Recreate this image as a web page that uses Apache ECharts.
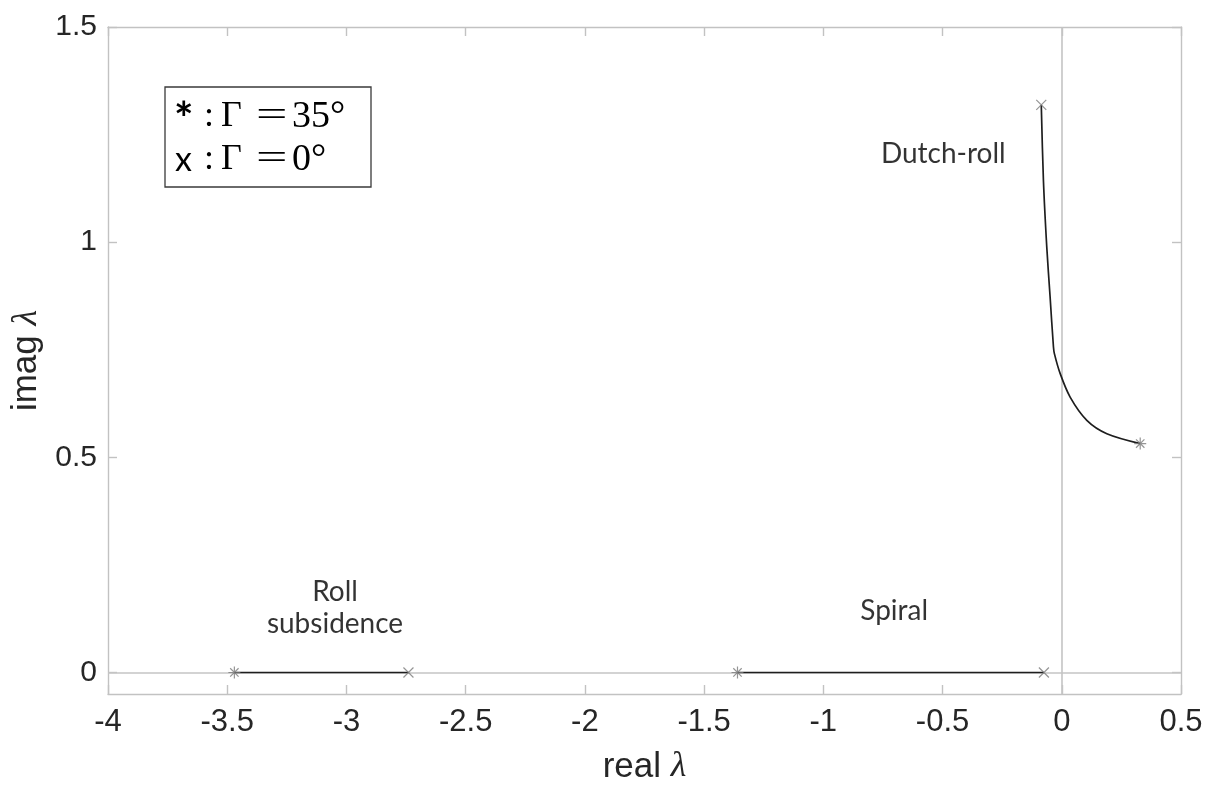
<!DOCTYPE html>
<html><head><meta charset="utf-8">
<script src="https://cdn.jsdelivr.net/npm/echarts@6/dist/echarts.min.js"></script>
<style>html,body{margin:0;padding:0;background:#fff}#c{width:1213px;height:790px}</style>
</head><body><div id="c"></div>
<script>
// ---- data ----
const xTicks = [-4, -3.5, -3, -2.5, -2, -1.5, -1, -0.5, 0, 0.5];
const yTicks = [0, 0.5, 1, 1.5];
const rollReal = [-3.47, -2.74];
const rollImag = [0, 0];
const spiralReal = [-1.36, -0.075];
const spiralImag = [0, 0];
const dutchReal = [-0.086, -0.077, -0.063, -0.049, -0.035, -0.031, -0.007, 0.035, 0.105, 0.189, 0.329];
const dutchImag = [1.319, 1.144, 0.989, 0.873, 0.757, 0.741, 0.695, 0.640, 0.586, 0.555, 0.532];
const gamma35Real = [-3.47, -1.36, 0.329];
const gamma35Imag = [0, 0, 0.532];
const gamma0Real = [-2.74, -0.075, -0.086];
const gamma0Imag = [0, 0, 1.319];
const annoText = ['Dutch-roll', 'Roll\nsubsidence', 'Spiral'];
const annoReal = [-0.497, -3.048, -0.703];
const annoImag = [1.205, 0.151, 0.144];

const zip = (a, b) => a.map((v, i) => [v, b[i]]);
const axisGray = '#c2c2c2';
const labelColor = '#262626';
const starPath = 'path://M5,0L5,10M0,5L10,5M1.5,1.5L8.5,8.5M8.5,1.5L1.5,8.5';
const xPath = 'path://M0,0L10,10M10,0L0,10';

const chart = echarts.init(document.getElementById('c'), null, {renderer: 'canvas'});
const baseX = {
  type: 'value', min: -4, max: 0.5, interval: 0.5,
  splitLine: {show: false},
  axisLine: {show: true, onZero: false, lineStyle: {color: axisGray, width: 1.4}},
  axisTick: {show: true, inside: true, length: 9, lineStyle: {color: axisGray, width: 1.4}}
};
const baseY = {
  type: 'value', min: -0.05, max: 1.5,
  splitLine: {show: false},
  axisLine: {show: true, onZero: false, lineStyle: {color: axisGray, width: 1.4}},
  axisTick: {show: true, inside: true, length: 9, customValues: yTicks, lineStyle: {color: axisGray, width: 1.4}}
};
const lineStyle = {color: '#1e1e1e', width: 1.7};
const nameStyle = {color: labelColor, fontSize: 35, fontFamily: 'Liberation Sans',
  rich: {l: {fontFamily: 'Liberation Serif', fontStyle: 'italic', fontSize: 36, color: labelColor}}};
const legendFont = '36px "Liberation Serif"';
const tx = (text, x, y, font, extra) => Object.assign({type: 'text', x: x, y: y, z: 11,
  style: {text: text, font: font, fill: '#000', textVerticalAlign: 'middle'}}, extra || {});
chart.setOption({
  animation: false,
  grid: {left: 108, right: 32, top: 27, bottom: 96, containLabel: false},
  xAxis: [
    Object.assign({}, baseX, {
      position: 'bottom',
      axisLabel: {show: true, margin: 13, color: labelColor, fontSize: 31, fontFamily: 'Liberation Sans',
        formatter: v => String(v)},
      name: 'real {l|λ}', nameLocation: 'middle', nameGap: 55, nameTextStyle: nameStyle
    }),
    Object.assign({}, baseX, {position: 'top', axisLabel: {show: false}})
  ],
  yAxis: [
    Object.assign({}, baseY, {
      position: 'left',
      axisLabel: {show: true, margin: 11, color: labelColor, fontSize: 30, fontFamily: 'Liberation Sans',
        customValues: yTicks, formatter: v => String(v)},
      name: 'imag {l|λ}', nameLocation: 'middle', nameGap: 62, nameRotate: 90, nameTextStyle: nameStyle
    }),
    Object.assign({}, baseY, {position: 'right', axisLabel: {show: false}})
  ],
  series: [
    {type: 'line', data: [], z: 1, silent: true,
      markLine: {silent: true, z: 1, symbol: 'none', label: {show: false},
        lineStyle: {color: '#c4c4c4', width: 1.6, type: 'solid'},
        data: [{xAxis: 0}, {yAxis: 0}]}},
    {type: 'line', data: zip(rollReal, rollImag), showSymbol: false, lineStyle: lineStyle, z: 3},
    {type: 'line', data: zip(spiralReal, spiralImag), showSymbol: false, lineStyle: lineStyle, z: 3},
    {type: 'line', data: zip(dutchReal, dutchImag), showSymbol: false, smooth: 0.3, lineStyle: lineStyle, z: 3},
    {type: 'scatter', data: zip(gamma35Real, gamma35Imag), symbol: starPath, symbolSize: 12, z: 4,
      itemStyle: {color: 'none', borderColor: '#7a7a7a', borderWidth: 1.2}},
    {type: 'scatter', data: zip(gamma0Real, gamma0Imag), symbol: xPath, symbolSize: 10, z: 4,
      itemStyle: {color: 'none', borderColor: '#7a7a7a', borderWidth: 1.2}},
    {type: 'scatter', data: annoReal.map((v, i) => ({value: [v, annoImag[i]], name: annoText[i]})),
      symbolSize: 0, z: 5, silent: true,
      label: {show: true, position: 'inside', formatter: p => p.name, color: '#000',
        textBorderWidth: 0, fontFamily: 'Lato', fontSize: 28, lineHeight: 32, align: 'center'}}
  ],
  graphic: [
    {type: 'rect', shape: {x: 165, y: 87, width: 206, height: 100},
      style: {fill: '#fff', stroke: '#3a3a3a', lineWidth: 1.3}, z: 10},
    tx('*', 174, 120, 'bold 46px Lato'),
    tx(':', 204, 117, legendFont),
    tx('Γ', 221, 117, legendFont),
    tx('=', 256, 117, legendFont, {scaleX: 1.55}),
    tx('35°', 292, 117, '38px "Liberation Serif"'),
    tx('x', 175, 160, '34px Lato'),
    tx(':', 204, 160, legendFont),
    tx('Γ', 221, 160, legendFont),
    tx('=', 256, 160, legendFont, {scaleX: 1.55}),
    tx('0°', 292, 160, '38px "Liberation Serif"')
  ]
});
</script></body></html>
